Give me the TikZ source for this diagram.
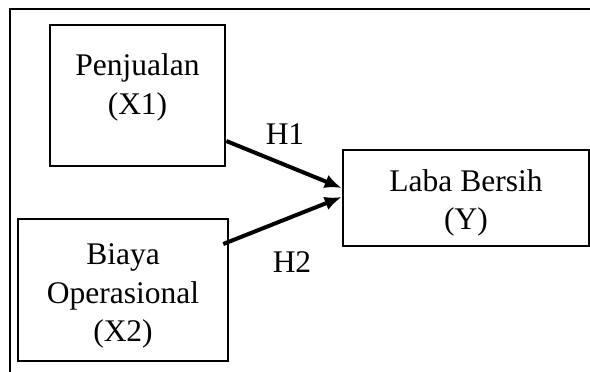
\documentclass[tikz,border=0pt]{standalone}
\usepackage{fontspec}
\setmainfont{Liberation Serif}
\usetikzlibrary{arrows.meta}
\tikzset{>={Latex[length=17pt,width=14pt]}}
\tikzset{
  varbox/.style={draw, line width=2.6pt, inner sep=0pt},
  boxtext/.style={align=center, inner sep=0pt, font=\fontsize{31.5}{38.5}\selectfont},
  link/.style={->, line width=4pt},
  hlabel/.style={font=\fontsize{31.5}{38.5}\selectfont}
}

\begin{document}
\begin{tikzpicture}[x=1pt, y=-1pt]
        \useasboundingbox (0,0) rectangle (590,372);

            % Outer frame (only top and left edges show)
            \draw[line width=2pt] (590,9) -- (10,9) -- (10,372);

            % Penjualan box
            \node[varbox, minimum width=175pt, minimum height=141pt] (pj) at (137.5,95.5) {};
            \node[boxtext] (pjtext) at (137.5,87.5) {Penjualan\\(X1)};

            % Biaya Operasional box
            \node[varbox, minimum width=210pt, minimum height=142pt] (bo) at (123,290) {};
            \node[boxtext] (botext) at (123,296) {Biaya\\Operasional\\(X2)};

            % Laba Bersih box
            \node[varbox, minimum width=246pt, minimum height=96pt] (lb) at (466,198) {};
            \node[boxtext] (lbtext) at (466,203) {Laba Bersih\\(Y)};

            % Hypothesis arrows
            \draw[link] ([yshift=-45.5pt]pj.east) -- ([yshift=10pt]lb.west);
            \draw[link] ([xshift=-6pt,yshift=46pt]bo.east) -- ([yshift=1pt]lb.west);

            % Labels
            \node[hlabel] (h1) at (285,134) {H1};
            \node[hlabel] (h2) at (292,262) {H2};

        \end{tikzpicture}
\end{document}
